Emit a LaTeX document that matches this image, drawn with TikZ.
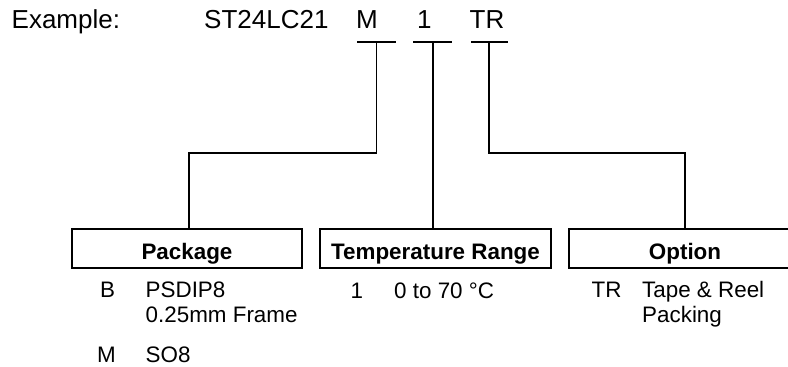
\documentclass[tikz,border=0pt]{standalone}
\usepackage{fontspec}
\setmainfont{Liberation Sans}
\begin{document}
\begin{tikzpicture}[x=1bp,y=-1bp,
  hdr/.style={anchor=base west,inner sep=0pt,font=\fontsize{26bp}{30bp}\selectfont},
  txt/.style={anchor=base west,inner sep=0pt,font=\fontsize{22.4bp}{26bp}\selectfont},
  catbox/.style={draw,line width=2bp,minimum height=39bp,inner sep=0pt,
    text height=21bp,text depth=0pt,font=\fontsize{22.4bp}{26bp}\selectfont\bfseries},
  link/.style={line width=1.8bp},
  bar/.style={line width=1.8bp}]
\clip (0,0) rectangle (788,366);
% header
\node[hdr] (ex) at (11.5,28) {Example:};
\node[hdr] (part) at (204,28) {ST24LC21};
\node[hdr] (cm) at (356,28) {M};
\node[hdr] (c1) at (417,28) {1};
\node[hdr] (ctr) at (469.5,28) {TR};
% bars under the code letters
\coordinate (mL) at (357,42);  \coordinate (mR) at (396,42);  \coordinate (mT) at (376.5,42);
\coordinate (oL) at (413,42);  \coordinate (oR) at (452,42);  \coordinate (oT) at (433,42);
\coordinate (tL) at (471,42);  \coordinate (tR) at (508,42);  \coordinate (tT) at (489,42);
\draw[bar] (mL) -- (mR);
\draw[bar] (oL) -- (oR);
\draw[bar] (tL) -- (tR);
% category boxes
\node[catbox,minimum width=230bp] (pkg) at (187,248.5) {Package};
\node[catbox,minimum width=231bp] (temp) at (435.5,248.5) {Temperature Range};
\node[catbox,minimum width=232bp] (opt) at (685,248.5) {Option};
% connectors
\draw[link] (mT) -- ++(0,111) -| ([xshift=2bp]pkg.north);
\draw[link] (oT) -- (oT |- temp.north);
\draw[link] (tT) -- ++(0,111) -| (opt.north);
% package entries
\node[txt] (pB) at (100,297) {B};
\node[txt] (pBd) at (145.5,297) {PSDIP8};
\node[txt] (pBe) at (145.5,322) {0.25mm Frame};
\node[txt] (pM) at (96.8,362) {M};
\node[txt] (pMd) at (145.5,362) {SO8};
% temperature entries
\node[txt] (t1) at (350.5,298) {1};
\node[txt] (t1d) at (394,298) {0 to 70 °C};
% option entries
\node[txt] (oTR) at (591.5,297) {TR};
\node[txt] (oTRd) at (642,297) {Tape \& Reel};
\node[txt] (oTRe) at (642,322) {Packing};
\end{tikzpicture}
\end{document}
